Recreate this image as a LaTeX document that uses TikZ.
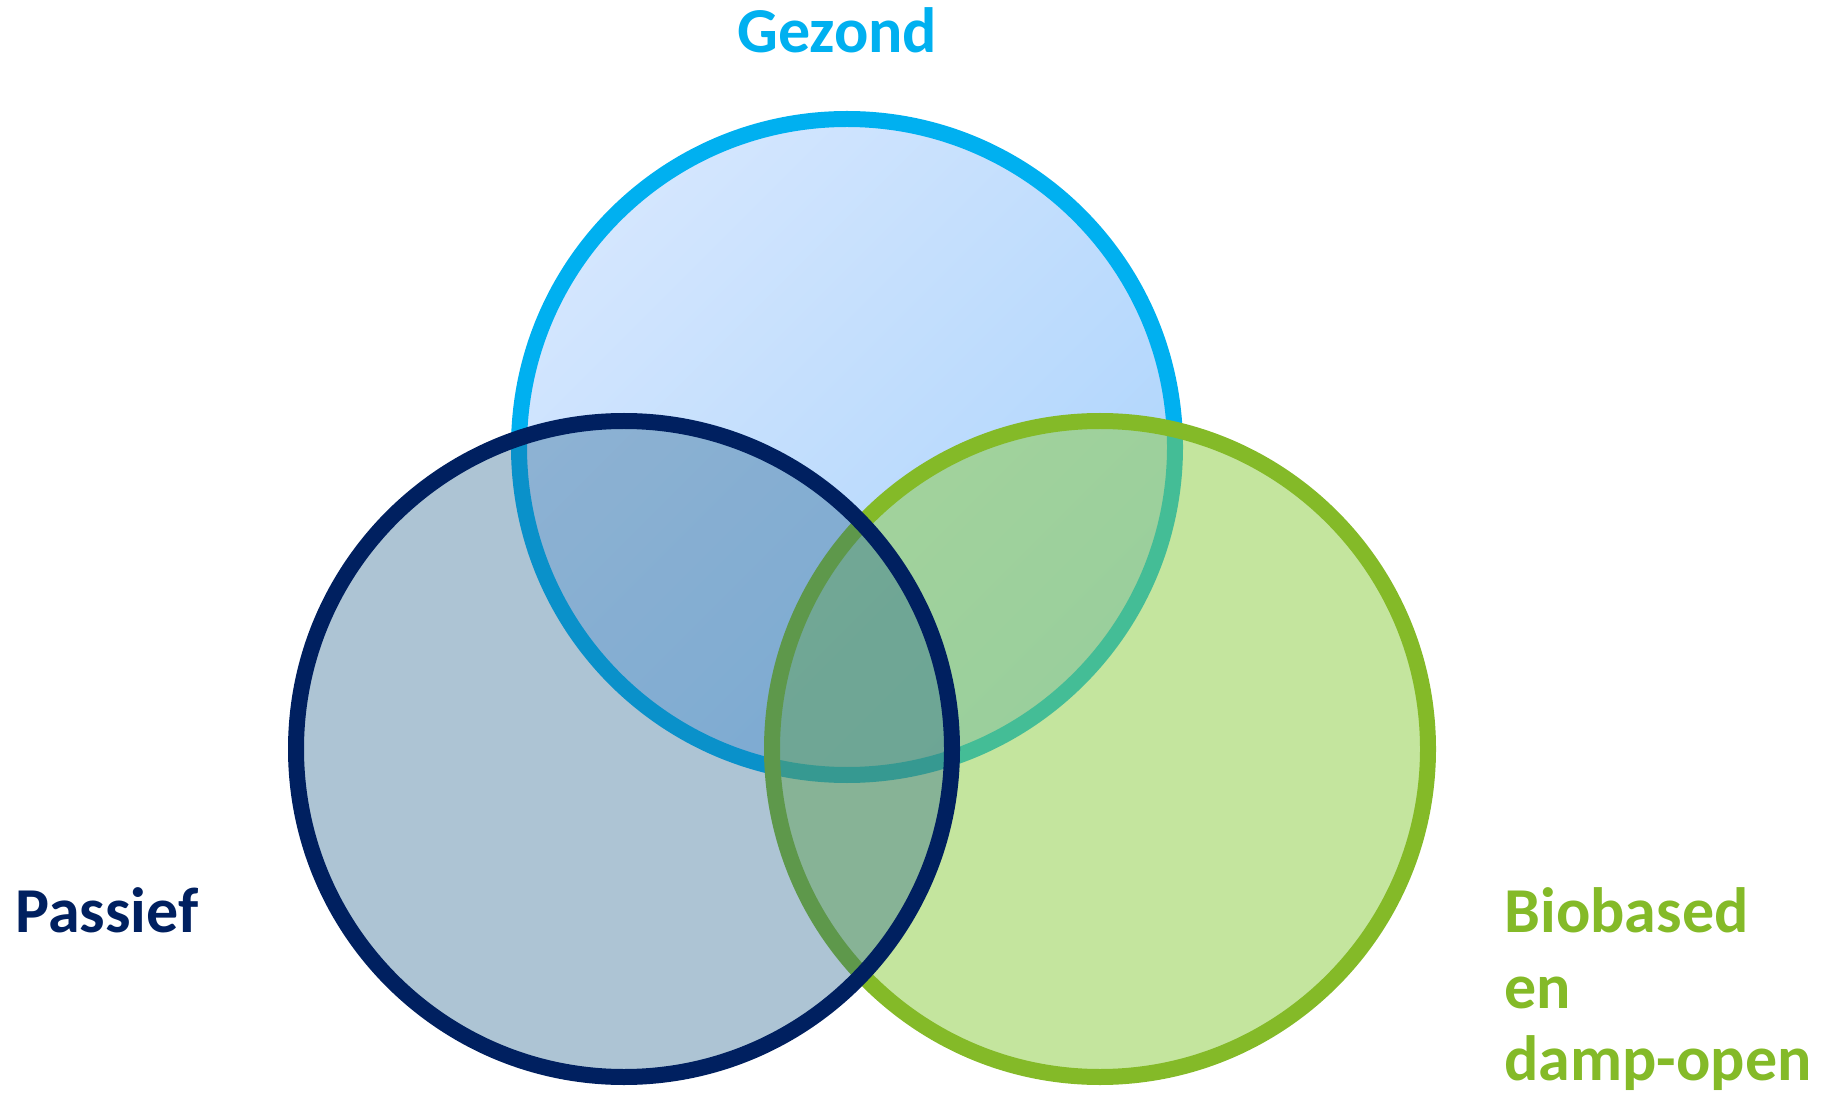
\documentclass[tikz,border=0pt]{standalone}
\usepackage{fontspec}
\setmainfont{Carlito}
\definecolor{gzStroke}{RGB}{0,176,240}
\definecolor{gzLight}{RGB}{212,230,254}
\definecolor{gzDark}{RGB}{172,212,252}
\definecolor{psStroke}{RGB}{0,32,96}
\definecolor{psFill}{RGB}{30,93,137}
\definecolor{bbStroke}{RGB}{132,186,40}
\definecolor{bbFill}{RGB}{137,203,61}
\begin{document}
\begin{tikzpicture}[x=0.5pt,y=0.5pt,
  ring/.style={line width=8pt},
  lbl/.style={anchor=base west, inner sep=0pt, font=\fontsize{32}{38}\selectfont\bfseries}]
\useasboundingbox (0,0) rectangle (1841,1099);
\coordinate (cG) at (847,652);
\coordinate (cP) at (624,350);
\coordinate (cB) at (1100,350);
% Gezond circle
\path[ring, draw=gzStroke, top color=gzLight, bottom color=gzDark, shading angle=45] (cG) circle[radius=328];
% Biobased circle
\path[ring, draw=bbStroke, fill=bbFill, fill opacity=0.5] (cB) circle[radius=328];
% Passief circle
\path[ring, draw=psStroke, fill=psFill, fill opacity=0.365] (cP) circle[radius=328];
% labels
\node[lbl, text=gzStroke] (lG) at (737,1046) {Gezond};
\node[lbl, text=psStroke] (lP) at (15,167) {Passief};
\node[lbl, text=bbStroke] (lB1) at (1504,167) {Biobased};
\node[lbl, text=bbStroke] (lB2) at (1504,91) {en};
\node[lbl, text=bbStroke] (lB3) at (1504,19) {damp-open};
\end{tikzpicture}
\end{document}
